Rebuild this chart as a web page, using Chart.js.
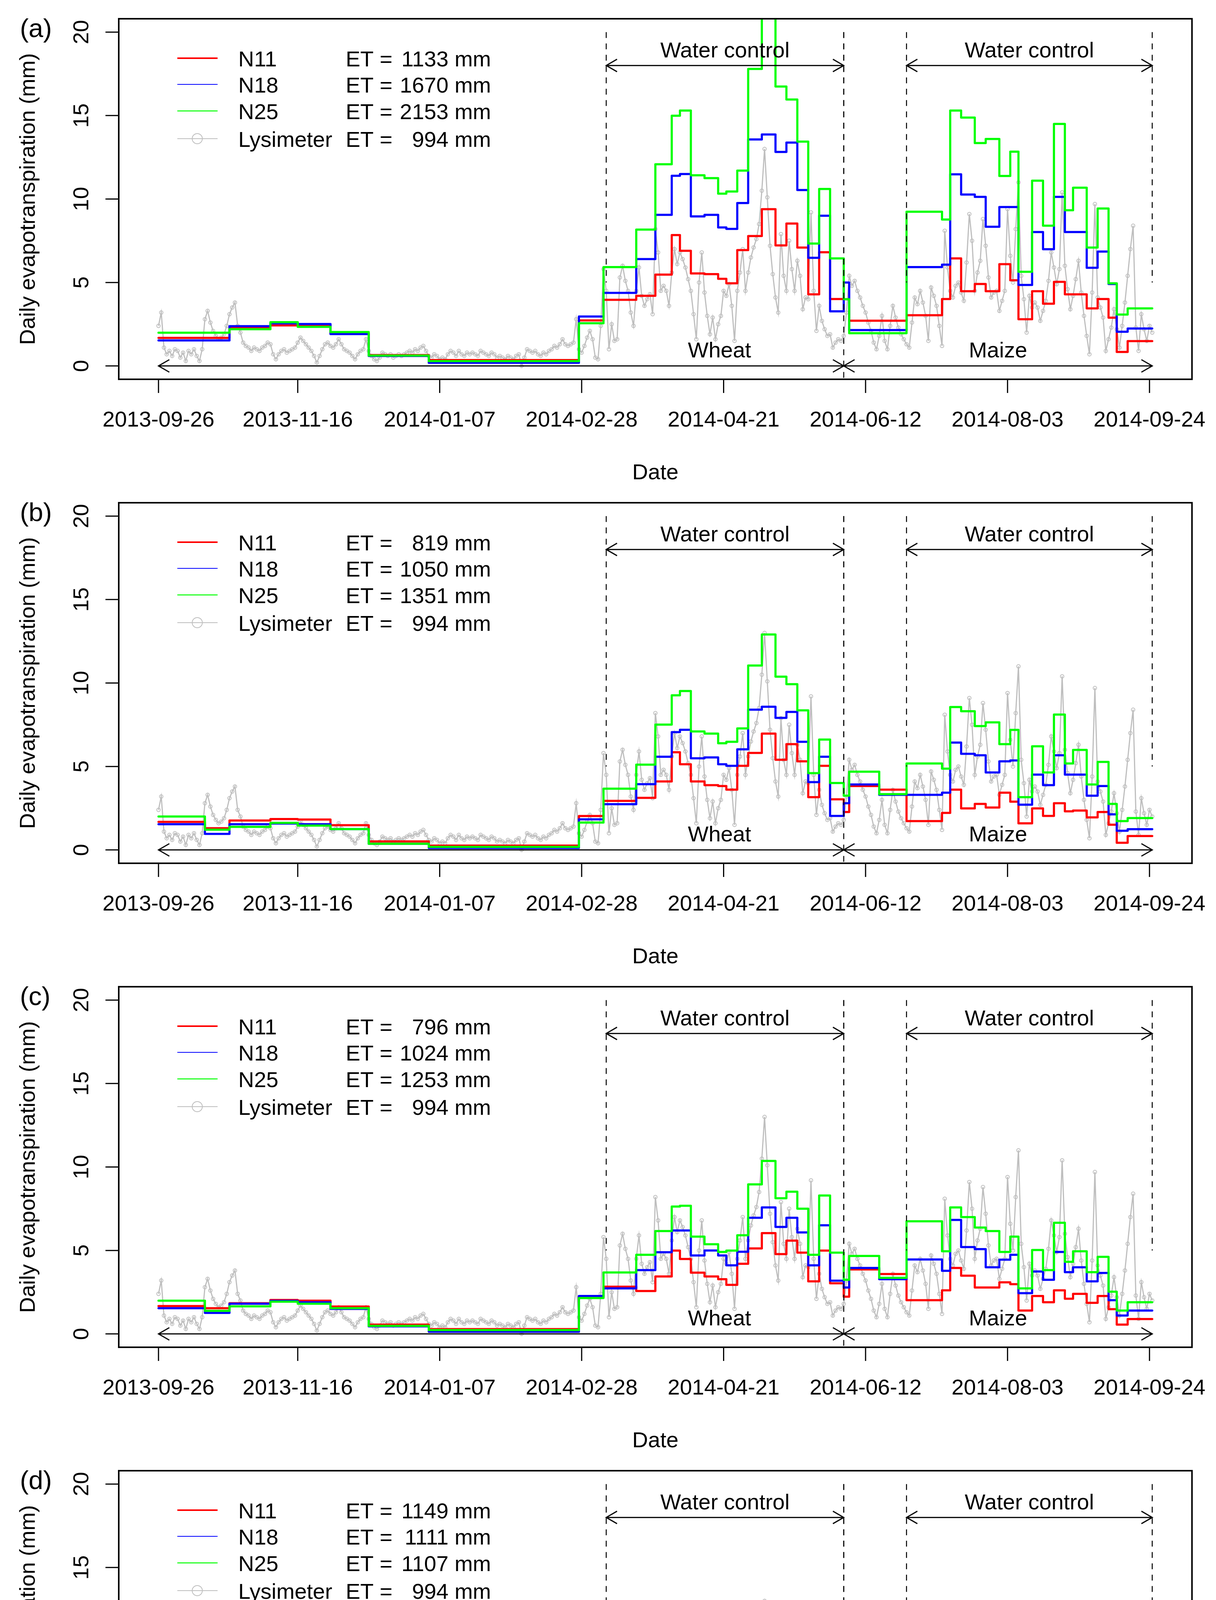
<!DOCTYPE html>
<html><head><meta charset="utf-8">
<script src="https://cdn.jsdelivr.net/npm/chart.js@4.4.0/dist/chart.umd.min.js"></script>
<style>
html,body{margin:0;padding:0;background:#fff;}
body{width:3113px;height:4975px;position:relative;overflow:hidden;}
.panel{position:absolute;left:0;width:3113px;height:1239px;}
canvas{display:block;}
</style></head><body>
<div class="panel" style="top:0px"><canvas id="c0" width="3113" height="1239" style="width:3113px;height:1239px"></canvas></div>
<div class="panel" style="top:1239px"><canvas id="c1" width="3113" height="1239" style="width:3113px;height:1239px"></canvas></div>
<div class="panel" style="top:2478px"><canvas id="c2" width="3113" height="1239" style="width:3113px;height:1239px"></canvas></div>
<div class="panel" style="top:3717px"><canvas id="c3" width="3113" height="1239" style="width:3113px;height:1239px"></canvas></div>
<script>
// ---------- data ----------
const startDate = '2013-09-26';
const endDay = 364;
const tickLabels = ['2013-09-26','2013-11-16','2014-01-07','2014-02-28','2014-04-21','2014-06-12','2014-08-03','2014-09-24'];
const yTicks = [0, 5, 10, 15, 20];

// day index (from 2013-09-26) at which each model step begins
const stepDays = [0,17,26,41,51,63,77,99,154,163,175,182,188,191,195,200,205,208,212,216,221,226,230,234,238,242,246,251,253,264,274,287,290,294,299,303,308,312,315,320,324,328,332,335,340,344,348,351,355];

const n11_a = [1.68,1.68,2.28,2.43,2.42,1.95,0.65,0.35,2.73,3.96,4.2,5.47,7.84,6.9,5.54,5.5,5.22,4.95,6.94,7.78,9.39,7.22,8.53,7.09,4.29,6.81,4.01,4.0,2.71,2.71,3.04,4.01,6.44,4.48,4.91,4.48,6.1,5.13,2.8,4.48,3.73,5.04,4.29,4.29,3.45,4.01,2.89,0.84,1.49];
const n18_a = [1.53,1.53,2.38,2.55,2.51,1.91,0.6,0.19,2.96,4.38,6.4,9.05,11.39,11.5,8.96,9.05,8.3,8.21,9.76,13.57,13.87,12.82,13.38,10.54,6.48,9.0,3.27,5.0,2.15,2.15,5.92,6.07,11.48,10.27,10.13,8.34,9.52,9.52,4.85,8.02,6.99,10.13,8.02,8.02,5.88,6.85,4.91,2.05,2.24];
const n25_a = [1.99,1.99,2.2,2.62,2.34,2.03,0.62,0.29,2.56,5.92,8.17,12.08,14.99,15.3,11.42,11.25,10.32,10.45,11.7,17.79,21.5,16.74,15.96,13.44,7.33,10.6,6.44,4.0,1.96,1.96,9.24,8.77,15.3,14.88,13.35,13.6,11.38,12.84,5.64,11.1,8.4,14.5,9.33,10.68,7.09,9.43,4.95,3.08,3.45];

const n11_b = [1.68,1.3,1.76,1.85,1.82,1.48,0.51,0.26,2.03,2.94,3.12,4.1,5.85,5.13,4.1,3.88,3.83,3.61,5.04,5.81,6.97,5.4,6.34,5.31,3.16,5.04,3.03,2.27,3.83,3.61,1.73,2.22,3.61,2.49,2.76,2.54,3.43,2.89,1.59,2.49,2.04,2.8,2.31,2.36,1.95,2.27,1.51,0.43,0.83];
const n18_b = [1.54,0.96,1.54,1.58,1.54,1.25,0.37,0.12,1.83,2.74,3.94,5.58,7.06,7.2,5.49,5.54,5.13,5.04,6.03,8.4,8.58,7.91,8.27,6.48,4.06,5.58,2.04,2.8,3.92,3.3,3.3,3.43,6.43,5.76,5.67,4.64,5.31,5.36,2.71,4.51,3.88,5.67,4.51,4.51,3.25,3.83,2.13,1.15,1.24];
const n25_b = [2.0,1.21,1.38,1.62,1.46,1.25,0.37,0.18,1.64,3.67,5.11,7.51,9.26,9.52,7.1,6.97,6.39,6.48,7.28,11.05,12.91,10.38,9.93,8.36,4.6,6.61,4.01,3.25,4.69,3.34,5.18,4.87,8.56,8.31,7.42,7.64,6.34,7.19,3.16,6.21,4.64,8.11,5.18,5.99,3.92,5.27,2.76,1.73,1.91];

const n11_c = [1.67,1.54,1.84,2.03,1.99,1.64,0.56,0.29,2.2,2.83,2.57,3.44,4.99,4.49,3.67,3.44,3.28,2.94,4.2,5.12,6.04,4.78,5.59,4.87,3.15,4.99,3.03,2.23,3.86,3.59,2.02,2.61,3.95,3.49,2.78,2.78,3.09,2.98,1.4,2.27,1.9,2.61,2.11,2.4,1.86,2.27,1.48,0.56,0.89];
const n18_c = [1.54,1.26,1.81,1.98,1.89,1.5,0.45,0.13,2.27,2.73,3.82,4.89,6.2,6.2,4.7,5.0,4.7,4.11,4.92,6.96,7.58,6.41,6.96,6.08,4.11,6.51,3.19,2.78,3.95,3.28,4.46,3.78,6.83,5.2,5.08,3.99,4.45,4.74,2.44,3.74,3.24,4.91,3.7,3.99,3.15,3.65,2.02,1.1,1.4];
const n25_c = [1.99,1.38,1.65,1.93,1.81,1.54,0.48,0.23,2.15,3.68,4.74,6.16,7.63,7.68,5.83,5.37,4.91,4.99,5.91,8.96,10.36,8.13,8.52,7.5,4.74,8.29,4.87,3.24,4.67,3.36,6.75,4.95,7.58,7.0,6.37,6.16,4.91,5.83,2.73,5.03,3.82,6.66,4.32,4.95,3.7,4.62,2.53,1.4,1.9];

const n11_d = [1.67,1.54,1.84,2.03,1.99,1.64,0.56,0.29,2.2,4.09,3.87,5.15,7.41,6.81,5.41,5.15,5.19,4.51,6.0,7.36,8.94,8.39,7.49,7.11,4.21,6.3,4.04,2.26,3.83,3.58,3.62,4.51,8.39,5.49,5.41,5.32,6.13,5.53,2.77,5.07,4.13,5.96,4.98,5.07,3.66,4.51,2.77,1.19,1.7];
const n18_d = [1.54,1.26,1.81,1.98,1.89,1.5,0.45,0.13,2.27,2.98,4.26,5.49,6.98,6.98,5.28,5.62,5.41,4.72,5.62,7.87,8.64,7.36,7.83,6.73,4.38,6.85,3.4,2.94,3.92,3.28,4.72,4.04,7.36,5.83,5.79,4.64,4.98,5.32,2.68,4.26,3.62,5.53,4.13,4.43,3.53,4.0,2.26,1.23,1.45];
const n25_d = [1.99,1.38,1.65,1.93,1.81,1.54,0.48,0.23,2.13,3.49,4.47,5.75,7.15,7.15,5.45,4.98,4.51,4.51,5.49,8.43,9.73,7.55,8.0,7.07,4.51,8.05,4.66,3.28,4.66,3.36,5.75,3.96,5.87,5.07,5.02,4.13,3.4,3.92,2.0,3.49,2.55,4.6,3.11,3.58,2.64,3.49,1.7,1.06,1.57];

// lysimeter daily ET (mm), day 0 = 2013-09-26
const lysimeter = [
2.4,3.2,1.1,0.7,0.9,0.6,1.0,0.9,0.5,0.8, 0.3,0.9,0.7,1.0,0.6,0.3,1.0,2.8,3.3,2.6,
2.1,1.8,1.6,1.7,1.9,2.4,3.1,3.5,3.8,2.4, 2.0,1.4,1.2,1.1,0.9,1.1,1.0,0.9,1.1,1.2,
1.4,1.3,0.7,0.4,0.7,0.9,1.0,0.8,0.9,1.0, 1.1,1.4,1.7,1.5,1.3,1.1,0.9,0.6,0.2,0.6,
1.0,1.3,1.4,1.2,1.1,1.3,1.6,1.3,1.0,0.9, 0.8,0.6,0.4,0.7,0.9,1.0,1.6,0.9,0.6,0.4,
0.3,0.5,0.8,0.7,0.6,0.7,0.5,0.6,0.7,0.6, 0.7,0.8,0.9,0.8,1.0,0.9,1.1,1.2,0.9,0.6,
0.5,0.7,0.6,0.4,0.5,0.4,0.7,0.9,0.8,0.6, 0.9,0.7,0.6,0.8,0.7,0.8,0.7,0.6,0.9,0.8,
0.7,0.6,0.8,0.7,0.5,0.6,0.5,0.4,0.6,0.5, 0.4,0.6,0.7,0.0,0.5,1.0,0.9,0.8,0.9,0.7,
0.6,0.8,0.7,0.9,1.0,1.2,1.1,1.3,1.6,1.3, 1.2,1.3,1.4,2.8,1.0,0.8,1.2,1.7,2.1,1.6,
0.5,0.4,2.4,5.8,4.5,1.0,2.5,1.5,1.6,5.3, 6.0,5.1,4.5,3.2,2.4,4.5,5.9,4.2,3.6,4.0,
4.3,3.1,8.2,6.8,4.5,4.8,4.5,3.6,5.6,7.0, 6.1,6.8,6.4,5.9,5.2,4.5,3.1,1.6,5.0,6.8,
4.4,3.0,1.9,2.9,1.6,2.5,3.0,4.5,4.2,4.9, 3.6,1.5,4.5,5.6,7.0,4.5,5.6,6.5,7.1,7.6,
8.5,10.5,13.0,10.1,7.2,5.5,4.1,3.2,7.9,5.4, 4.5,7.5,5.8,4.5,6.3,5.4,3.4,4.1,4.0,9.2,
4.5,2.1,3.6,2.7,2.2,1.8,1.9,1.1,1.4,1.6, 1.5,1.8,3.2,5.4,4.8,5.1,4.5,4.1,3.6,3.2,
2.6,2.1,1.4,1.0,1.8,3.0,1.5,1.0,2.4,3.6, 2.9,2.3,1.9,1.6,1.3,1.1,2.6,4.1,3.7,4.5,
3.8,3.0,1.5,4.7,4.2,3.6,2.4,1.2,8.1,5.9, 4.5,4.1,4.8,5.0,4.4,3.9,6.2,9.1,7.5,4.5,
5.6,6.3,8.8,7.2,5.3,4.1,4.4,4.5,3.3,3.9, 4.5,9.4,6.6,5.0,8.2,11.0,5.4,4.0,2.0,4.2,
3.5,3.8,3.5,2.7,3.3,3.9,5.1,6.8,5.9,4.9, 5.8,10.4,6.0,4.6,3.4,4.2,5.2,6.3,4.4,3.0,
1.8,0.7,4.4,9.7,4.1,3.5,2.9,0.9,1.6,2.3, 3.4,2.2,1.1,2.4,3.8,5.4,7.0,8.4,2.3,0.9,
3.1,2.2,1.5,2.4,2.0
];

const panelLetters = ['(a)','(b)','(c)','(d)'];
const seriesNames = ['N11','N18','N25','Lysimeter'];
const etN11 = [1133, 819, 796, 1149];
const etN18 = [1670, 1050, 1024, 1111];
const etN25 = [2153, 1351, 1253, 1107];
const etLys = 994;
const waterControlDays = [[164, 251], [274, 364]];
const cropSeasons = [[0, 251, 'Wheat', 205.5], [251, 364, 'Maize', 307.5]];
const panelN11 = [n11_a, n11_b, n11_c, n11_d];
const panelN18 = [n18_a, n18_b, n18_c, n18_d];
const panelN25 = [n25_a, n25_b, n25_c, n25_d];

// ---------- helpers ----------
const FONT = '"Liberation Sans", Arial, Helvetica, sans-serif';
const RED = '#FF0000', BLUE = '#0000FF', GREEN = '#00FF00', GRAY = '#BEBEBE';
const DAY = 86400000;
const tickDays = tickLabels.map(s => Math.round((Date.parse(s) - Date.parse(startDate)) / DAY));

function stepPoints(vals) {
  const pts = [];
  for (let i = 0; i < stepDays.length; i++) {
    const x0 = stepDays[i];
    const x1 = i + 1 < stepDays.length ? stepDays[i + 1] : endDay;
    pts.push({x: x0, y: vals[i]});
    pts.push({x: x1, y: vals[i]});
  }
  return pts;
}
function line(ctx, x0, y0, x1, y1) { ctx.beginPath(); ctx.moveTo(x0, y0); ctx.lineTo(x1, y1); ctx.stroke(); }
function head(ctx, x, y, dir) {
  const L = 32, a = Math.PI / 6;
  ctx.beginPath();
  ctx.moveTo(x - dir * L * Math.cos(a), y - L * Math.sin(a));
  ctx.lineTo(x, y);
  ctx.lineTo(x - dir * L * Math.cos(a), y + L * Math.sin(a));
  ctx.stroke();
}
function dblArrow(ctx, x0, x1, y) {
  line(ctx, x0, y, x1, y);
  head(ctx, x0, y, -1);
  head(ctx, x1, y, 1);
}

const annotPlugin = {
  id: 'annot',
  afterDatasetsDraw(chart) {
    const {ctx, scales: {x, y}} = chart;
    ctx.save();
    ctx.strokeStyle = '#000';
    ctx.lineWidth = 2.5;
    ctx.setLineDash([15, 14]);
    waterControlDays.forEach(([d0, d1]) => {
      line(ctx, x.getPixelForValue(d0), y.getPixelForValue(20), x.getPixelForValue(d0), y.getPixelForValue(5));
      line(ctx, x.getPixelForValue(d1), y.getPixelForValue(20), x.getPixelForValue(d1), y.getPixelForValue(5));
    });
    const dMid = cropSeasons[0][1];
    line(ctx, x.getPixelForValue(dMid), y.getPixelForValue(20), x.getPixelForValue(dMid), chart.chartArea.bottom);
    ctx.setLineDash([]);
    ctx.lineWidth = 3;
    ctx.fillStyle = '#000';
    ctx.font = '56px ' + FONT;
    ctx.textAlign = 'center';
    ctx.textBaseline = 'alphabetic';
    waterControlDays.forEach(([d0, d1]) => {
      const py = y.getPixelForValue(18);
      dblArrow(ctx, x.getPixelForValue(d0), x.getPixelForValue(d1), py);
      ctx.fillText('Water control', (x.getPixelForValue(d0) + x.getPixelForValue(d1)) / 2, py - 21);
    });
    cropSeasons.forEach(([d0, d1, name, dl]) => {
      const py = y.getPixelForValue(0);
      dblArrow(ctx, x.getPixelForValue(d0), x.getPixelForValue(d1), py);
      ctx.fillText(name, x.getPixelForValue(dl), py - 22);
    });
    ctx.restore();
  },
  afterDraw(chart) {
    const {ctx, chartArea: a, scales: {x, y}} = chart;
    const p = chart.options.plugins.annot;
    ctx.save();
    ctx.strokeStyle = '#000';
    ctx.fillStyle = '#000';
    ctx.lineWidth = 4;
    ctx.strokeRect(a.left, a.top, a.right - a.left, a.bottom - a.top);
    ctx.lineWidth = 3;
    ctx.font = '56px ' + FONT;
    yTicks.forEach(v => {
      const py = y.getPixelForValue(v);
      line(ctx, a.left - 34, py, a.left, py);
      ctx.save();
      ctx.translate(a.left - 78, py);
      ctx.rotate(-Math.PI / 2);
      ctx.textAlign = 'center';
      ctx.textBaseline = 'alphabetic';
      ctx.fillText(String(v), 0, 0);
      ctx.restore();
    });
    tickDays.forEach((d, i) => {
      const px = x.getPixelForValue(d);
      line(ctx, px, a.bottom, px, a.bottom + 35);
      ctx.textAlign = 'center';
      ctx.textBaseline = 'alphabetic';
      ctx.fillText(tickLabels[i], px, a.bottom + 121);
    });
    ctx.fillText('Date', (a.left + a.right) / 2, a.bottom + 256);
    ctx.save();
    ctx.translate(89, (a.top + a.bottom) / 2);
    ctx.rotate(-Math.PI / 2);
    ctx.textAlign = 'center';
    ctx.fillText('Daily evapotranspiration (mm)', 0, 0);
    ctx.restore();
    ctx.font = '67px ' + FONT;
    ctx.textAlign = 'left';
    ctx.fillText(p.letter, 51, 95);
    // legend
    ctx.font = '56px ' + FONT;
    const rowsY = [149, 216, 284, 355];
    const cols = [RED, BLUE, GREEN, GRAY];
    const lw = [4, 2.2, 2.4, 1.8];
    const ets = [p.et[0], p.et[1], p.et[2], etLys];
    rowsY.forEach((ry, i) => {
      ctx.strokeStyle = cols[i];
      ctx.lineWidth = lw[i];
      line(ctx, 454, ry, 557, ry);
      if (i === 3) {
        ctx.lineWidth = 2;
        ctx.beginPath(); ctx.arc(505, ry, 13, 0, Math.PI * 2); ctx.stroke();
      }
      ctx.fillStyle = '#000';
      ctx.textBaseline = 'alphabetic';
      ctx.textAlign = 'left';
      ctx.fillText(seriesNames[i], 610, ry + 21);
      ctx.fillText('ET =', 885, ry + 21);
      ctx.textAlign = 'right';
      ctx.fillText(ets[i] + ' mm', 1257, ry + 21);
    });
    ctx.restore();
  }
};

function makeChart(idx) {
  const ctx = document.getElementById('c' + idx);
  const lysPts = lysimeter.map((v, i) => ({x: i, y: v}));
  return new Chart(ctx, {
    type: 'line',
    data: {
      datasets: [
        {label: 'N25', data: stepPoints(panelN25[idx]), borderColor: GREEN, borderWidth: 5.5, pointRadius: 0, order: 0, borderCapStyle: 'round', borderJoinStyle: 'round'},
        {label: 'N18', data: stepPoints(panelN18[idx]), borderColor: BLUE, borderWidth: 5.5, pointRadius: 0, order: 1, borderCapStyle: 'round', borderJoinStyle: 'round'},
        {label: 'N11', data: stepPoints(panelN11[idx]), borderColor: RED, borderWidth: 5.5, pointRadius: 0, order: 2, borderCapStyle: 'round', borderJoinStyle: 'round'},
        {label: 'Lysimeter', data: lysPts, borderColor: GRAY, borderWidth: 3, pointRadius: 4.5, pointBorderWidth: 2, pointBorderColor: GRAY, pointBackgroundColor: 'rgba(255,255,255,0)', order: 3}
      ]
    },
    options: {
      responsive: false,
      animation: false,
      devicePixelRatio: 1,
      events: [],
      layout: {padding: {left: 304, right: 61.5, top: 48, bottom: 268}},
      scales: {
        x: {type: 'linear', min: -14.56, max: 378.56, display: false},
        y: {type: 'linear', min: -0.8, max: 20.8, display: false}
      },
      plugins: {
        legend: {display: false},
        tooltip: {enabled: false},
        annot: {letter: panelLetters[idx], et: [etN11[idx], etN18[idx], etN25[idx]]}
      }
    },
    plugins: [annotPlugin]
  });
}
for (let i = 0; i < 4; i++) makeChart(i);
</script>
</body></html>
